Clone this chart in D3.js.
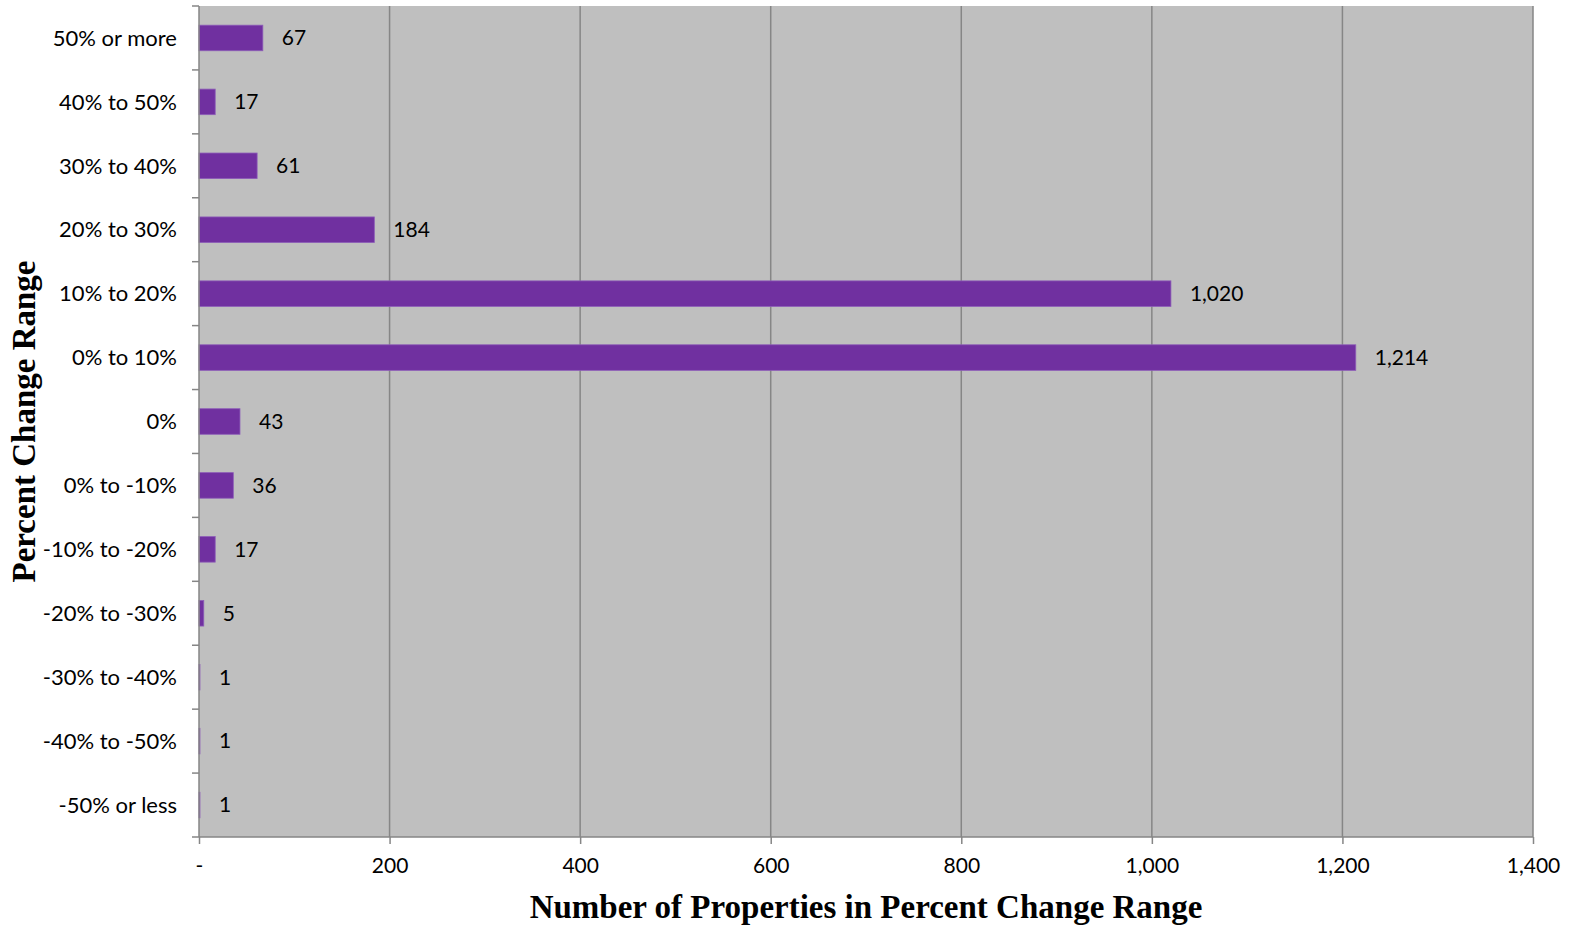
<!DOCTYPE html>
<html>
<head>
<meta charset="utf-8">
<script src="https://cdn.jsdelivr.net/npm/d3@7"></script>
<style>
  body { margin: 0; background: #fff; }
  svg { display: block; }
  .axis text { font-family: Lato, "Open Sans", sans-serif; font-size: 21px; fill: #000; }
  .axis .cat { font-size: 22px; }
  .axis path, .axis line { stroke: #868686; stroke-width: 1.5px; }
  .title { font-family: "Liberation Serif", "Times New Roman", serif; font-weight: bold; font-size: 33px; fill: #000; }
  .val { font-family: Lato, "Open Sans", sans-serif; font-size: 21px; fill: #000; }
</style>
</head>
<body>
<div id="chart"></div>
<script>
var categories = ["50% or more", "40% to 50%", "30% to 40%", "20% to 30%", "10% to 20%", "0% to 10%", "0%",
                  "0% to -10%", "-10% to -20%", "-20% to -30%", "-30% to -40%", "-40% to -50%", "-50% or less"];
var counts = [67, 17, 61, 184, 1020, 1214, 43, 36, 17, 5, 1, 1, 1];
var xTicks = [0, 200, 400, 600, 800, 1000, 1200, 1400];

var data = categories.map(function(c, i) { return {cat: c, value: counts[i]}; });

var margin = {top: 6, right: 41, bottom: 88, left: 199},
    width = 1574 - margin.left - margin.right,
    height = 925 - margin.top - margin.bottom,
    svg = d3.select("#chart").append("svg").attr("width", 1574).attr("height", 925),
    g = svg.append("g").attr("transform", "translate(" + margin.left + "," + margin.top + ")");

var x = d3.scaleLinear().domain([0, 1400]).range([0, width]);
var y = d3.scaleBand().domain(categories).range([0, height]).paddingInner(0.6).paddingOuter(0.3);

// plot background
g.append("rect")
    .attr("width", width)
    .attr("height", height)
    .attr("fill", "#bfbfbf");

// vertical gridlines
g.append("g")
  .selectAll("line")
  .data(xTicks.slice(1))
  .enter().append("line")
    .attr("x1", function(d) { return x(d); })
    .attr("x2", function(d) { return x(d); })
    .attr("y1", 0)
    .attr("y2", height)
    .attr("stroke", "#868686")
    .attr("stroke-width", 1.5);

// bars
g.append("g")
  .selectAll("rect")
  .data(data)
  .enter().append("rect")
    .attr("x", 0)
    .attr("y", function(d) { return y(d.cat); })
    .attr("width", function(d) { return x(d.value); })
    .attr("height", y.bandwidth())
    .attr("fill", "#7030a0")
    .attr("stroke", "#8d5cb8")
    .attr("stroke-width", 0.8);

// value labels
g.append("g")
  .selectAll("text")
  .data(data)
  .enter().append("text")
    .attr("class", "val")
    .attr("x", function(d) { return x(d.value) + 19; })
    .attr("y", function(d) { return y(d.cat) + y.bandwidth() / 2; })
    .attr("dy", "0.35em")
    .text(function(d) { return d3.format(",")(d.value); });

// x axis
var xAxis = g.append("g")
    .attr("class", "axis")
    .attr("transform", "translate(0," + height + ")")
    .call(d3.axisBottom(x).tickValues(xTicks).tickSize(7).tickPadding(14)
      .tickFormat(function(d) { return d === 0 ? "-" : d3.format(",")(d); }));
xAxis.select(".domain").attr("d", "M0,0H" + width);

// y axis with ticks at the band boundaries
var yAxis = g.append("g").attr("class", "axis");
yAxis.append("line")
    .attr("x1", 0).attr("x2", 0)
    .attr("y1", 0).attr("y2", height);
yAxis.selectAll(".bt")
  .data(d3.range(categories.length + 1))
  .enter().append("line")
    .attr("class", "bt")
    .attr("x1", -7).attr("x2", 0)
    .attr("y1", function(i) { return i * height / categories.length; })
    .attr("y2", function(i) { return i * height / categories.length; });
yAxis.selectAll("text")
  .data(categories)
  .enter().append("text")
    .attr("class", "cat")
    .attr("x", -22)
    .attr("y", function(d) { return y(d) + y.bandwidth() / 2; })
    .attr("dy", "0.35em")
    .attr("text-anchor", "end")
    .text(function(d) { return d; });

// axis titles
svg.append("text")
    .attr("class", "title")
    .attr("text-anchor", "middle")
    .attr("x", margin.left + width / 2)
    .attr("y", 918)
    .text("Number of Properties in Percent Change Range");

svg.append("text")
    .attr("class", "title")
    .attr("text-anchor", "middle")
    .attr("transform", "translate(35," + (margin.top + height / 2) + ") rotate(-90)")
    .text("Percent Change Range");
</script>
</body>
</html>
